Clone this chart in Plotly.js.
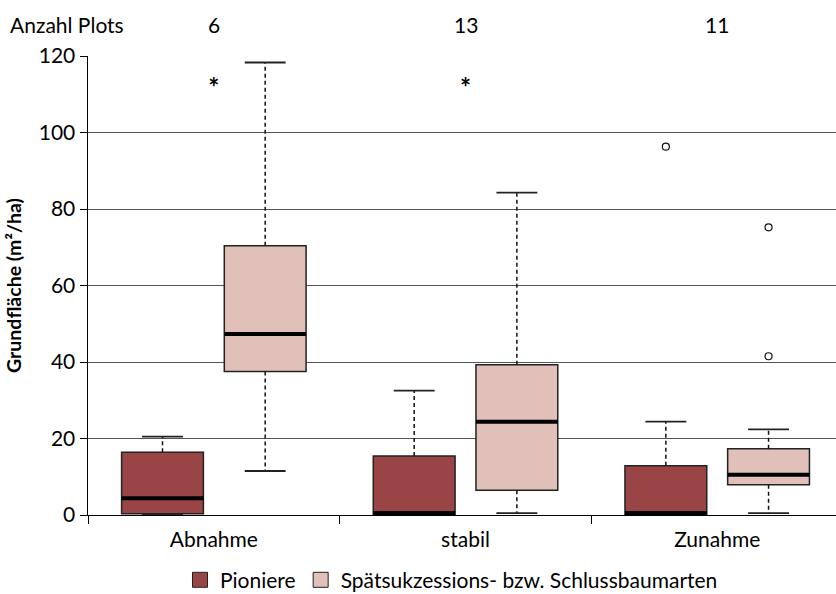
<!DOCTYPE html>
<html>
<head>
<meta charset="utf-8">
<script src="https://cdn.plot.ly/plotly-3.0.1.min.js"></script>
<style>html,body{margin:0;padding:0;background:#fff;}#chart{width:836px;height:594px;}</style>
</head>
<body>
<div id="chart"></div>
<script>
// ---- data ----
const categories = ["Abnahme", "stabil", "Zunahme"];
const plotCounts = [6, 13, 11];
const seriesNames = ["Pioniere", "Spätsukzessions- bzw. Schlussbaumarten"];

const pionQ1 = [0.3, 0.1, 0.1];
const pionMedian = [4.4, 0.5, 0.5];
const pionQ3 = [16.4, 15.4, 12.9];
const pionLower = [0.2, 0.0, 0.0];
const pionUpper = [20.5, 32.5, 24.4];
const pionOutCat = [2];
const pionOutVal = [96.3];

const spaetQ1 = [37.5, 6.5, 7.9];
const spaetMedian = [47.3, 24.4, 10.5];
const spaetQ3 = [70.4, 39.3, 17.3];
const spaetLower = [11.5, 0.5, 0.5];
const spaetUpper = [118.3, 84.3, 22.4];
const spaetOutCat = [2, 2];
const spaetOutVal = [75.2, 41.5];

const extremeCat = [0, 1];
const extremeVal = [111.0, 111.0];

// ---- styling ----
const FONT = "Lato, 'Open Sans', sans-serif";
const FS = 21;
const colPion = "#9a4545";
const colSpaet = "#e0c0b8";
const OFFSET = 0.204;
const BOXW = 0.325;

function pos(idx, off) { return idx.map(i => i + off); }
const idx = categories.map((c, i) => i);

function boxTrace(off, q1, med, q3, fill) {
  return {
    type: "box", x: pos(idx, off), q1: q1, median: med, q3: q3,
    lowerfence: q1, upperfence: q3, width: BOXW, whiskerwidth: 0,
    fillcolor: fill, line: { color: "#222", width: 1.5 },
    boxpoints: false, showlegend: false, hoverinfo: "skip"
  };
}
function segTrace(xs0, xs1, ys0, ys1, line) {
  const x = [], y = [];
  for (let i = 0; i < xs0.length; i++) {
    x.push(xs0[i], xs1[i], null); y.push(ys0[i], ys1[i], null);
  }
  return { type: "scatter", mode: "lines", x: x, y: y, line: line, showlegend: false, hoverinfo: "skip" };
}
function series(off, q1, med, q3, lo, up, fill) {
  const p = pos(idx, off);
  const left = p.map(v => v - BOXW / 2), right = p.map(v => v + BOXW / 2);
  const cl = p.map(v => v - BOXW / 4), cr = p.map(v => v + BOXW / 4);
  return [
    segTrace(p, p, q3, up, { color: "#111", width: 1.5, dash: "4px,3px" }),
    segTrace(p, p, q1, lo, { color: "#111", width: 1.5, dash: "4px,3px" }),
    segTrace(cl, cr, up, up, { color: "#222", width: 1.8 }),
    segTrace(cl, cr, lo, lo, { color: "#222", width: 1.8 }),
    boxTrace(off, q1, med, q3, fill),
    segTrace(left, right, med, med, { color: "#000", width: 4 })
  ];
}

const traces = [].concat(
  series(-OFFSET, pionQ1, pionMedian, pionQ3, pionLower, pionUpper, colPion),
  series(OFFSET, spaetQ1, spaetMedian, spaetQ3, spaetLower, spaetUpper, colSpaet),
  [
    { type: "scatter", mode: "markers", x: pos(pionOutCat, -OFFSET), y: pionOutVal,
      marker: { symbol: "circle-open", size: 7, color: "#111", line: { width: 1.2 } }, showlegend: false },
    { type: "scatter", mode: "markers", x: pos(spaetOutCat, OFFSET), y: spaetOutVal,
      marker: { symbol: "circle-open", size: 7, color: "#111", line: { width: 1.2 } }, showlegend: false },
    { type: "scatter", mode: "text", x: extremeCat, y: extremeVal, text: extremeCat.map(() => "<b>*</b>"),
      textposition: "middle center", textfont: { family: FONT, size: 26, color: "#000" }, showlegend: false },
    { type: "scatter", mode: "markers", x: [null], y: [null], name: seriesNames[0],
      marker: { symbol: "square", size: 15, color: colPion, line: { color: "#222", width: 1 } } },
    { type: "scatter", mode: "markers", x: [null], y: [null], name: seriesNames[1],
      marker: { symbol: "square", size: 15, color: colSpaet, line: { color: "#222", width: 1 } } }
  ]
);

const annotations = [
  { xref: "paper", yref: "paper", x: -0.107, y: 1.0697, xanchor: "left", yanchor: "middle",
    text: "Anzahl Plots", showarrow: false, font: { family: FONT, size: FS, color: "#000" } }
].concat(plotCounts.map((n, i) => ({
  xref: "x", yref: "paper", x: i, y: 1.0697, xanchor: "center", yanchor: "middle",
  text: String(n), showarrow: false, font: { family: FONT, size: FS, color: "#000" }
})));

const layout = {
  width: 836, height: 594,
  margin: { l: 88, r: 0, t: 56, b: 79, autoexpand: false },
  paper_bgcolor: "#fff", plot_bgcolor: "#fff",
  font: { family: FONT, size: FS, color: "#000" },
  showlegend: true,
  legend: { orientation: "h", x: 0.123, xanchor: "left", y: -0.142, yanchor: "middle",
            font: { family: FONT, size: FS, color: "#000" }, itemclick: false },
  boxmode: "overlay",
  xaxis: {
    range: [-0.5, 2.472], tickmode: "array", tickvals: idx, ticktext: categories,
    ticks: "outside", ticklen: 6, tickcolor: "rgba(0,0,0,0)",
    showgrid: false, zeroline: false, showline: true, linecolor: "#000", linewidth: 1,
    minor: { tickmode: "array", tickvals: [-0.5, 0.5, 1.5, 2.5], ticks: "outside", ticklen: 8, tickcolor: "#000", showgrid: false },
    tickfont: { family: FONT, size: FS, color: "#000" }, fixedrange: true
  },
  yaxis: {
    range: [0, 120], tickmode: "linear", tick0: 0, dtick: 20,
    ticks: "outside", ticklen: 7, tickcolor: "#000",
    showgrid: true, gridcolor: "#555", gridwidth: 1,
    zeroline: false, showline: true, linecolor: "#000", linewidth: 1.5,
    tickfont: { family: FONT, size: FS, color: "#000" },
    title: { text: "<b>Grundfläche (m²/ha)</b>", font: { family: FONT, size: 19.5, color: "#000" }, standoff: 12 },
    fixedrange: true
  },
  annotations: annotations
};

Plotly.newPlot("chart", traces, layout, { displayModeBar: false, staticPlot: true });
</script>
</body>
</html>
